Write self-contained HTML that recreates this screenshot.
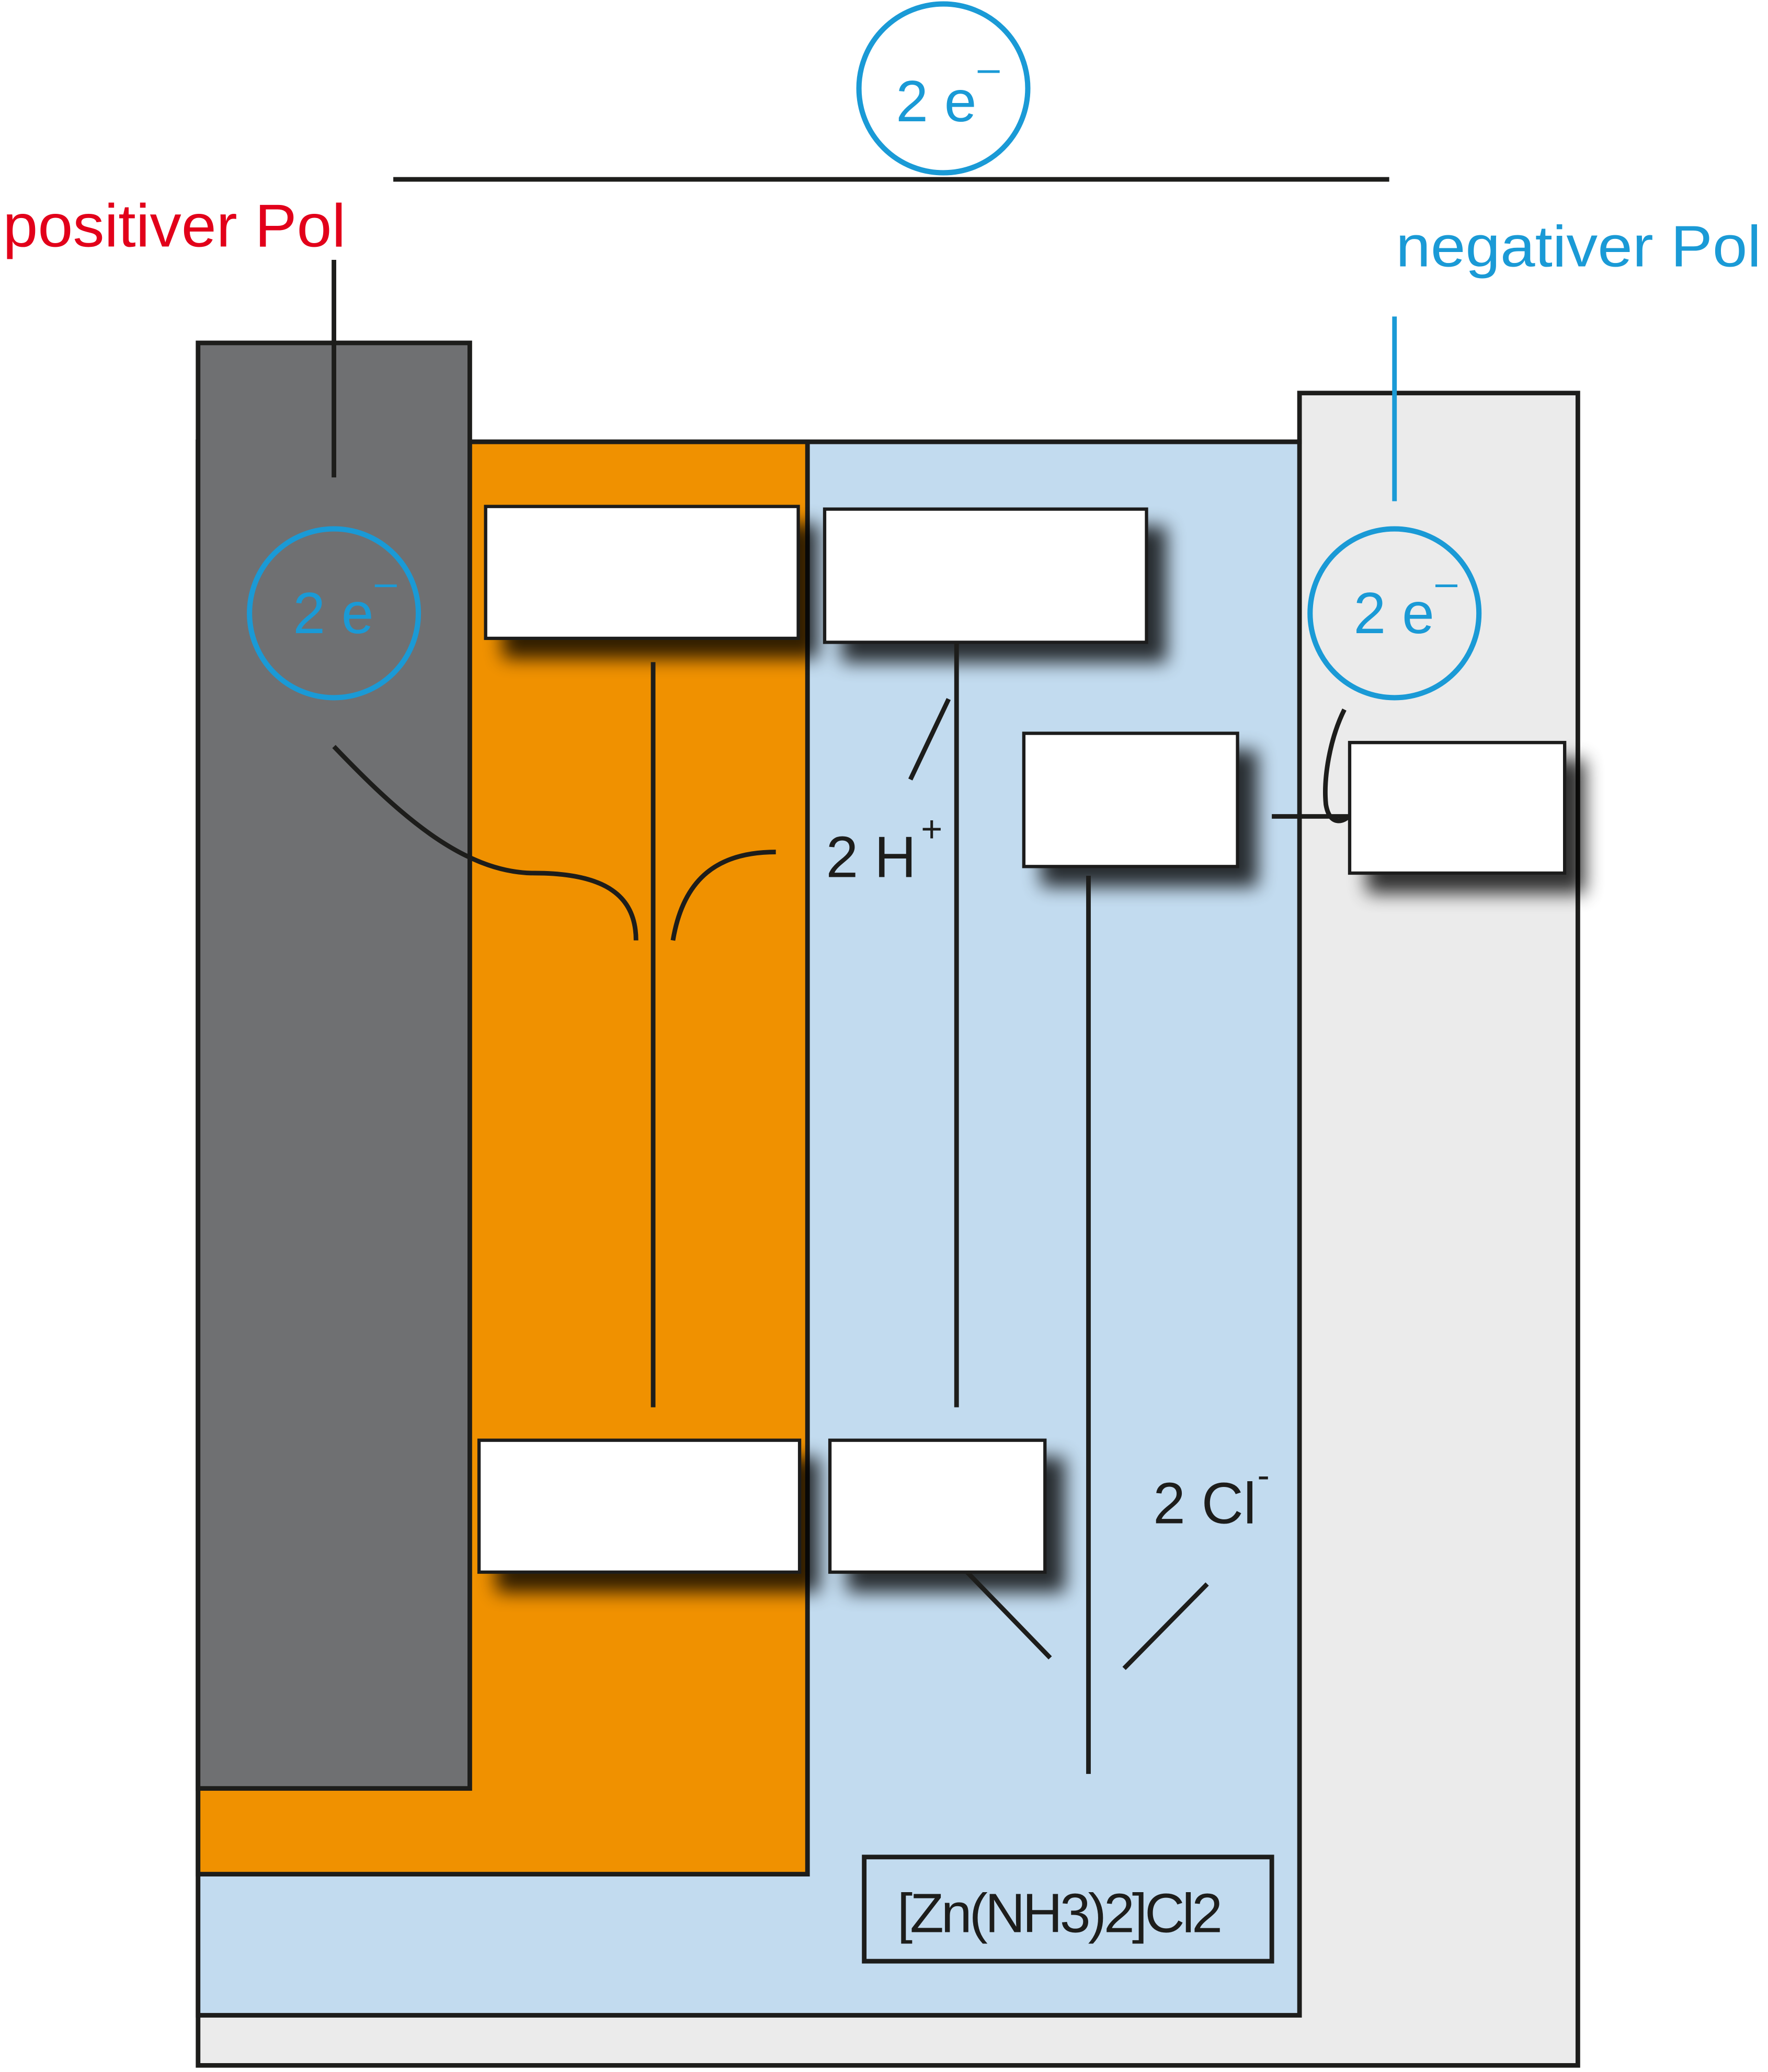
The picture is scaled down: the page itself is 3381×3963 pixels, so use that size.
<!DOCTYPE html>
<html><head><meta charset="utf-8"><style>
html,body{margin:0;padding:0;background:#fff}
svg{display:block}
text{font-family:"Liberation Sans","DejaVu Sans",sans-serif}
</style></head><body>
<svg width="3381" height="3963" viewBox="0 0 1340 1571" xmlns="http://www.w3.org/2000/svg">
<defs>
<filter id="sh" x="-20%" y="-20%" width="160%" height="160%">
<feGaussianBlur in="SourceAlpha" stdDeviation="7"/>
<feOffset dx="14" dy="14" result="b"/>
<feComponentTransfer><feFuncA type="linear" slope="0.8"/></feComponentTransfer>
<feMerge><feMergeNode/><feMergeNode in="SourceGraphic"/></feMerge>
</filter>
</defs>
<g stroke="#1d1d1b" stroke-width="3.5">
<polygon points="150,335 985,335 985,298 1196,298 1196,1566 150,1566" fill="#ebebeb"/>
<rect x="150" y="335" width="835" height="1193" fill="#c2dbef"/>
<rect x="150" y="335" width="462" height="1086" fill="#f09100"/>
<rect x="150" y="260" width="206" height="1096" fill="#6f7072"/>
</g>
<g fill="#fff" stroke="#1d1d1b" stroke-width="2.5" filter="url(#sh)">
<rect x="368" y="384" width="237" height="100"/>
<rect x="625" y="386" width="244" height="101"/>
<rect x="776" y="556" width="162" height="101"/>
<rect x="1023" y="563" width="163" height="99"/>
<rect x="363" y="1092" width="243" height="100"/>
<rect x="629" y="1092" width="163" height="100"/>
</g>
<g stroke="#1d1d1b" stroke-width="3.5" fill="none">
<line x1="298" y1="136" x2="1053" y2="136"/>
<line x1="253" y1="197" x2="253" y2="362"/>
<line x1="495" y1="502" x2="495" y2="1067"/>
<line x1="725" y1="487" x2="725" y2="1067"/>
<line x1="825" y1="664" x2="825" y2="1345"/>
<line x1="719" y1="530" x2="690" y2="591"/>
<line x1="733" y1="1192" x2="796" y2="1257"/>
<line x1="852" y1="1265" x2="915" y2="1201"/>
<line x1="964" y1="619" x2="1022" y2="619"/>
<path d="M253,566 C300,615 350,662 405,662 C460,662 482,680 482,713"/>
<path d="M510,713 C518,665 545,646 588,646"/>
<path d="M1019,538 C1008,560 1003,590 1005,610 C1008,628 1020,622 1022,619"/>
<rect x="655" y="1408" width="309" height="79"/>
</g>
<line x1="1057" y1="240" x2="1057" y2="380" stroke="#1a9ad6" stroke-width="3.5"/>
<g fill="none" stroke="#1a9ad6" stroke-width="4">
<circle cx="715" cy="67" r="64"/>
<circle cx="253" cy="465" r="64"/>
<circle cx="1057" cy="465" r="64"/>
</g>
<g fill="#1a9ad6" font-size="44">
<text x="679" y="92">2 e</text><text x="741" y="62" font-size="30">–</text>
<text x="222" y="480">2 e</text><text x="284" y="452" font-size="30">–</text>
<text x="1026" y="480">2 e</text><text x="1088" y="452" font-size="30">–</text>
<text x="1058" y="202" font-size="44" textLength="277" lengthAdjust="spacingAndGlyphs">negativer Pol</text>
</g>
<text x="2" y="187" font-size="46" fill="#e2001a" textLength="260" lengthAdjust="spacingAndGlyphs">positiver Pol</text>
<g fill="#1d1d1b" font-size="44">
<text x="626" y="665">2 H</text><text x="698" y="638" font-size="28">+</text>
<text x="874" y="1155">2 Cl</text><text x="953" y="1128" font-size="28">-</text>
<text x="680" y="1465" font-size="42" letter-spacing="-2">[Zn(NH3)2]Cl2</text>
</g>
</svg>
</body></html>
